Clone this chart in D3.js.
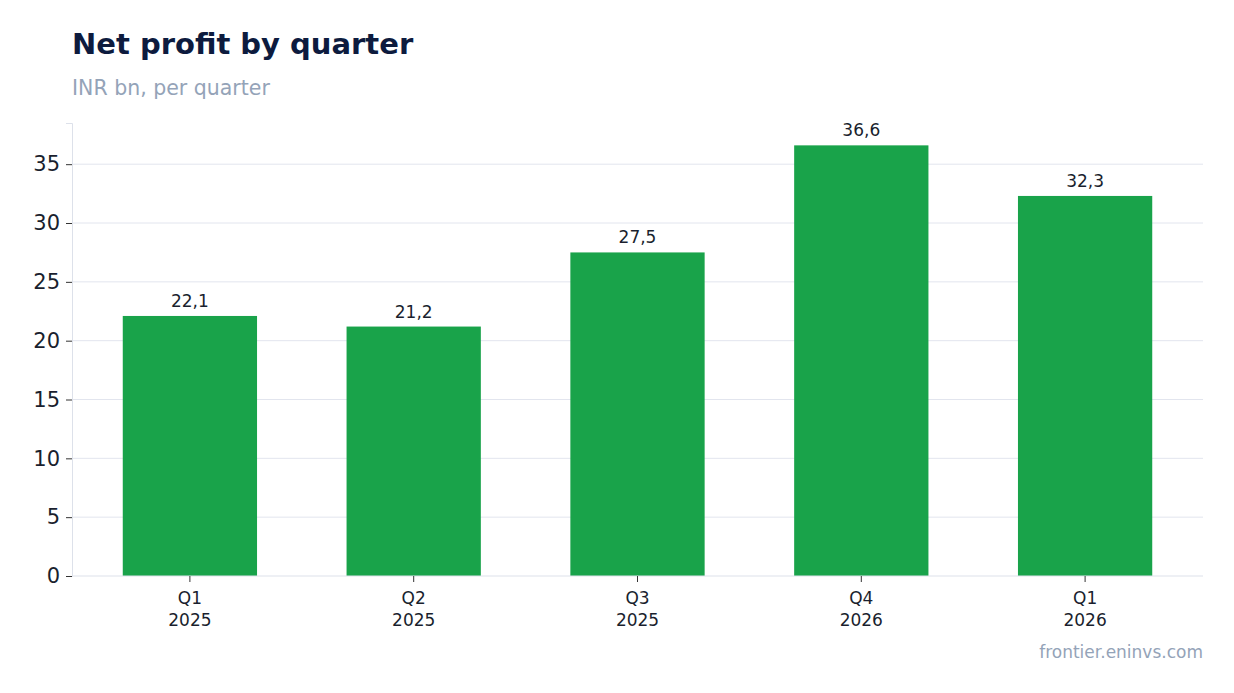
<!DOCTYPE html>
<html><head><meta charset="utf-8">
<script src="https://cdn.jsdelivr.net/npm/d3@7"></script>
<style>body{margin:0;background:#fff;font-family:"DejaVu Sans",sans-serif}</style>
</head><body>
<script>
var quarters = ["Q1", "Q2", "Q3", "Q4", "Q1"];
var years = ["2025", "2025", "2025", "2026", "2026"];
var profits = [22.1, 21.2, 27.5, 36.6, 32.3];
var yTicks = [0, 5, 10, 15, 20, 25, 30, 35];

var W = 1234, H = 693;
var svg = d3.select("body").append("svg").attr("width", W).attr("height", H);

svg.append("text").attr("x", 72).attr("y", 54).text("Net profit by quarter")
  .attr("font-size", 29).attr("font-weight", "bold").attr("fill", "#0d1b3e");
svg.append("text").attr("x", 72).attr("y", 95).text("INR bn, per quarter")
  .attr("font-size", 20.5).attr("fill", "#94a3b8");
svg.append("text").attr("x", 1203).attr("y", 658).attr("text-anchor", "end")
  .text("frontier.eninvs.com").attr("font-size", 17).attr("fill", "#94a3b8");

var idx = profits.map(function (d, i) { return i; });
var x = d3.scaleBand().domain(idx).range([78, 1197]).paddingInner(0.4).paddingOuter(0.2);
var y = d3.scaleLinear().domain([0, 38.5]).range([576, 123]);

// grid
svg.selectAll(".grid").data(yTicks.slice(1)).enter().append("line")
  .attr("x1", 72).attr("x2", 1203)
  .attr("y1", function (d) { return y(d); }).attr("y2", function (d) { return y(d); })
  .attr("stroke", "#e2e5ee").attr("stroke-width", 1);

// y axis
var ya = svg.append("g").attr("transform", "translate(72,0)")
  .call(d3.axisLeft(y).tickValues(yTicks).tickSize(6).tickPadding(6));
ya.select(".domain").attr("stroke", "#dde1ea");
ya.selectAll(".tick line").attr("stroke", "#333");
ya.selectAll("text").attr("font-size", 21).attr("fill", "#1a1f2e").attr("font-family", "DejaVu Sans");

// bars
svg.selectAll(".bar").data(profits).enter().append("rect")
  .attr("x", function (d, i) { return x(i); })
  .attr("y", function (d) { return y(d); })
  .attr("width", x.bandwidth())
  .attr("height", function (d) { return y(0) - y(d); })
  .attr("fill", "#19a34a");

svg.selectAll(".val").data(profits).enter().append("text")
  .attr("x", function (d, i) { return x(i) + x.bandwidth() / 2; })
  .attr("y", function (d) { return y(d) - 9; })
  .attr("text-anchor", "middle").attr("font-size", 17).attr("fill", "#1a1f2e")
  .text(function (d) { return d.toFixed(1).replace(".", ","); });

// x axis
svg.append("line").attr("x1", 72).attr("x2", 1203).attr("y1", 576).attr("y2", 576)
  .attr("stroke", "#dde1ea");
var xt = svg.selectAll(".xt").data(idx).enter().append("g")
  .attr("transform", function (i) { return "translate(" + (x(i) + x.bandwidth() / 2) + ",576)"; });
xt.append("line").attr("y2", 6).attr("stroke", "#333");
xt.append("text").attr("y", 28).attr("text-anchor", "middle").attr("font-size", 17)
  .attr("fill", "#1a1f2e").text(function (i) { return quarters[i]; });
xt.append("text").attr("y", 50).attr("text-anchor", "middle").attr("font-size", 17)
  .attr("fill", "#1a1f2e").text(function (i) { return years[i]; });
</script>
</body></html>
